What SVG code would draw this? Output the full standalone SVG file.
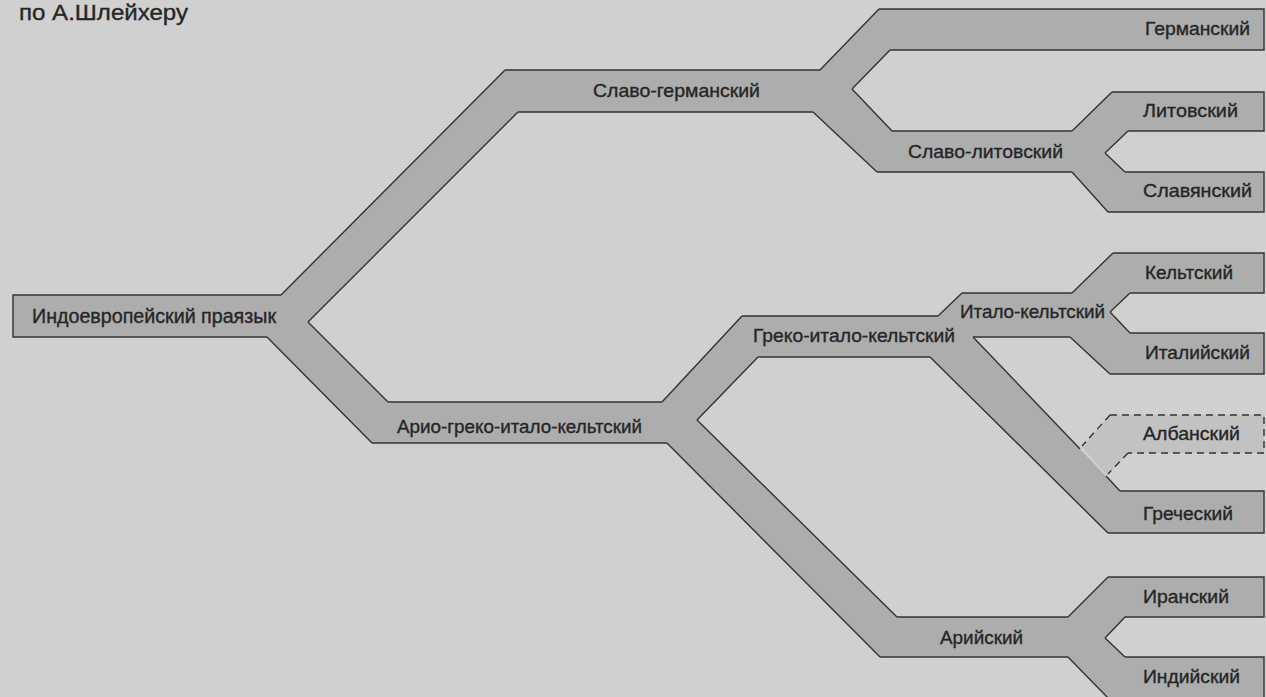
<svg xmlns="http://www.w3.org/2000/svg" width="1266" height="697" viewBox="0 0 1266 697">
<style>
.band{fill:#adadad}
.band-light{fill:#c2c2c2}
.edge{fill:none;stroke:#333333;stroke-width:1.4;stroke-linejoin:miter}
.dash{stroke-dasharray:7 5}
.lbl{font-family:"Liberation Sans",Arial,sans-serif;font-size:18.5px;fill:#262626;stroke:#262626;stroke-width:0.35}
.big{font-size:19.5px}
.title{font-family:"Liberation Sans",Arial,sans-serif;font-size:22px;fill:#262626;stroke:#262626;stroke-width:0.35}
</style>
<rect x="0" y="0" width="1266" height="697" fill="#d0d0d0"/>
<text class="title" x="19" y="20" textLength="169" lengthAdjust="spacingAndGlyphs">по А.Шлейхеру</text>
<g id="band-fill">
<path class="band" d="M13,295 L281,295 L505,70 L820,70 L879,9 L1264,9 L1264,50 L890,50 L852,89 L892,131 L1072,131 L1112,92 L1264,92 L1264,131 L1128,131 L1105,153 L1125,172 L1264,172 L1264,212 L1108,212 L1072,172 L877,172 L813,112 L518,112 L308,322 L388,402 L662,402 L742,316 L938,316 L962,293 L1072,293 L1113,253 L1264,253 L1264,293 L1130,293 L1110,312 L1130,333 L1264,333 L1264,374 L1110,374 L1070,337 L973,337 L1120,491 L1264,491 L1264,533 L1108,533 L930,357 L758,357 L697,420 L897,617 L1068,617 L1108,577 L1264,577 L1264,617 L1125,617 L1105,638 L1125,657 L1264,657 L1264,698 L1108,698 L1068,657 L880,657 L667,443 L372,443 L267,337 L13,337 Z"/>
<path class="band-light" d="M1082,447 L1110,415 L1264,415 L1264,453 L1128,453 L1107,475 Z"/>
</g>
<g id="connectors">
<path class="edge" d="M281,295 L505,70 M308,322 L518,112"/>
<path class="edge" d="M308,322 L388,402 M267,337 L372,443"/>
<path class="edge" d="M820,70 L879,9 M852,89 L890,50"/>
<path class="edge" d="M852,89 L892,131 M813,112 L877,172"/>
<path class="edge" d="M1072,131 L1112,92 M1105,153 L1128,131"/>
<path class="edge" d="M1105,153 L1125,172 M1072,172 L1108,212"/>
<path class="edge" d="M662,402 L742,316 M697,420 L758,357"/>
<path class="edge" d="M697,420 L897,617 M667,443 L880,657"/>
<path class="edge" d="M938,316 L962,293"/>
<path class="edge" d="M973,337 L1080,449 M1106,476 L1120,491 M930,357 L1108,533"/>
<path class="edge" d="M1072,293 L1113,253 M1110,312 L1130,293"/>
<path class="edge" d="M1110,312 L1130,333 M1070,337 L1110,374"/>
<path class="edge" d="M1068,617 L1108,577 M1105,638 L1125,617"/>
<path class="edge" d="M1105,638 L1125,657 M1068,657 L1108,698"/>
<path class="edge dash" d="M1110,415 L1082,446 M1128,453 L1108,474"/>
</g>
<g id="node-indoeuropean">
<path class="edge" d="M281,295 L13,295 L13,337 L267,337"/>
<text class="lbl big" x="32" y="323" textLength="244" lengthAdjust="spacingAndGlyphs">Индоевропейский праязык</text>
</g>
<g id="node-slavo-germanic">
<path class="edge" d="M505,70 L820,70 M518,112 L813,112"/>
<text class="lbl" x="593" y="97" textLength="167" lengthAdjust="spacingAndGlyphs">Славо-германский</text>
</g>
<g id="node-germanic">
<path class="edge" d="M879,9 L1264,9 L1264,50 L890,50"/>
<text class="lbl" x="1145" y="35" textLength="105" lengthAdjust="spacingAndGlyphs">Германский</text>
</g>
<g id="node-slavo-lithuanian">
<path class="edge" d="M892,131 L1072,131 M877,172 L1072,172"/>
<text class="lbl" x="908" y="158" textLength="155" lengthAdjust="spacingAndGlyphs">Славо-литовский</text>
</g>
<g id="node-lithuanian">
<path class="edge" d="M1112,92 L1264,92 L1264,131 L1128,131"/>
<text class="lbl" x="1143" y="117" textLength="95" lengthAdjust="spacingAndGlyphs">Литовский</text>
</g>
<g id="node-slavic">
<path class="edge" d="M1125,172 L1264,172 L1264,212 L1108,212"/>
<text class="lbl" x="1143" y="197" textLength="109" lengthAdjust="spacingAndGlyphs">Славянский</text>
</g>
<g id="node-ario-greco-italo-celtic">
<path class="edge" d="M388,402 L662,402 M372,443 L667,443"/>
<text class="lbl" x="397" y="433" textLength="245" lengthAdjust="spacingAndGlyphs">Арио-греко-итало-кельтский</text>
</g>
<g id="node-greco-italo-celtic">
<path class="edge" d="M742,316 L938,316 M758,357 L930,357"/>
<text class="lbl" x="753" y="342" textLength="202" lengthAdjust="spacingAndGlyphs">Греко-итало-кельтский</text>
</g>
<g id="node-italo-celtic">
<path class="edge" d="M962,293 L1072,293 M973,337 L1070,337"/>
<text class="lbl" x="960" y="318" textLength="145" lengthAdjust="spacingAndGlyphs">Итало-кельтский</text>
</g>
<g id="node-celtic">
<path class="edge" d="M1113,253 L1264,253 L1264,293 L1130,293"/>
<text class="lbl" x="1145" y="279" textLength="88" lengthAdjust="spacingAndGlyphs">Кельтский</text>
</g>
<g id="node-italic">
<path class="edge" d="M1130,333 L1264,333 L1264,374 L1110,374"/>
<text class="lbl" x="1145" y="359" textLength="105" lengthAdjust="spacingAndGlyphs">Италийский</text>
</g>
<g id="node-albanian">
<path class="edge dash" d="M1110,415 L1264,415 L1264,453 L1128,453"/>
<text class="lbl" x="1143" y="440" textLength="97" lengthAdjust="spacingAndGlyphs">Албанский</text>
</g>
<g id="node-greek">
<path class="edge" d="M1120,491 L1264,491 L1264,533 L1108,533"/>
<text class="lbl" x="1143" y="520" textLength="90" lengthAdjust="spacingAndGlyphs">Греческий</text>
</g>
<g id="node-aryan">
<path class="edge" d="M897,617 L1068,617 M880,657 L1068,657"/>
<text class="lbl" x="940" y="644" textLength="83" lengthAdjust="spacingAndGlyphs">Арийский</text>
</g>
<g id="node-iranian">
<path class="edge" d="M1108,577 L1264,577 L1264,617 L1125,617"/>
<text class="lbl" x="1143" y="603" textLength="86" lengthAdjust="spacingAndGlyphs">Иранский</text>
</g>
<g id="node-indian">
<path class="edge" d="M1125,657 L1264,657 L1264,698 L1108,698"/>
<text class="lbl" x="1143" y="683" textLength="97" lengthAdjust="spacingAndGlyphs">Индийский</text>
</g>
</svg>
